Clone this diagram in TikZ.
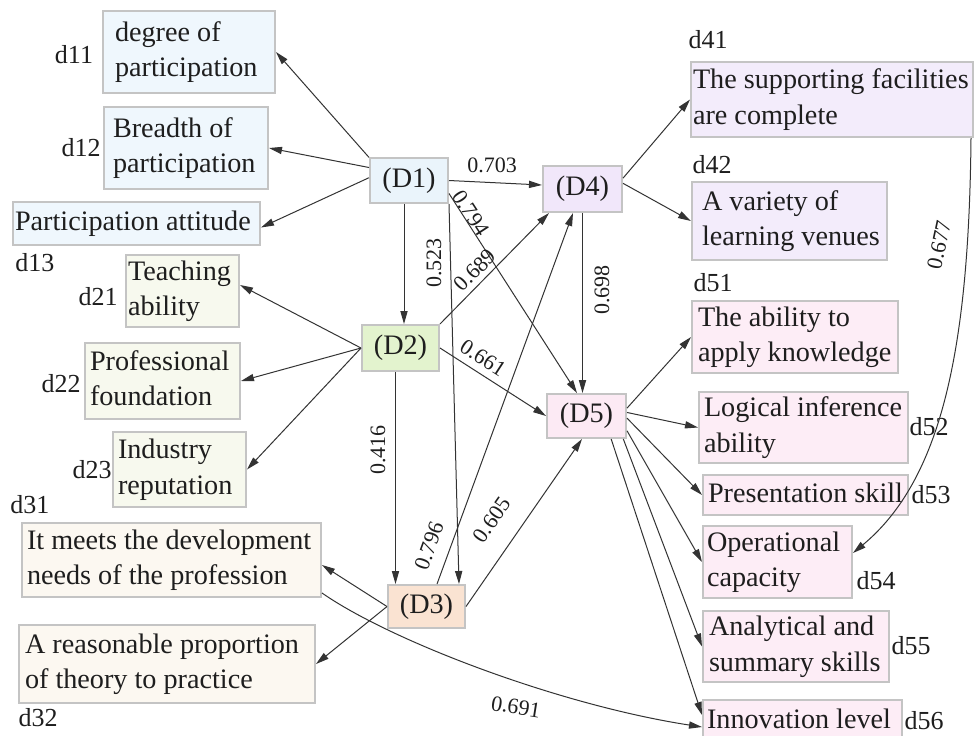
\documentclass[tikz,border=0pt]{standalone}
\usepackage{fontspec}
\setmainfont{Liberation Serif}
\usetikzlibrary{arrows.meta}

\definecolor{edgeink}{HTML}{333333}
\definecolor{frame}{HTML}{C4C4C4}
\definecolor{ink}{HTML}{1E1E1E}
\definecolor{leafA}{HTML}{EFF7FD}\definecolor{hubA}{HTML}{EAF4FB}
\definecolor{leafB}{HTML}{F7F9EE}\definecolor{hubB}{HTML}{E3F3CE}
\definecolor{leafC}{HTML}{FCF8F1}\definecolor{hubC}{HTML}{FAE3D2}
\definecolor{leafD}{HTML}{F3ECFB}\definecolor{hubD}{HTML}{F1E7FA}
\definecolor{leafE}{HTML}{FDEDF6}\definecolor{hubE}{HTML}{FCEAF4}

% left-aligned block of lines inside a box of fixed width (#1), indented by #2
\newcommand\celltext[3]{\makebox[#1][l]{\hspace*{#2}\begin{tabular}{@{}l@{}}#3\end{tabular}}}

\tikzset{
  box/.style={draw=frame, line width=1pt, inner sep=0pt, text=ink,
              font=\fontsize{14.1}{17.6}\selectfont},
  hub/.style={box, minimum width=39pt, minimum height=22.5pt},
  conn/.style={draw=edgeink, line width=0.5pt, -{Triangle[length=6.5pt,width=3.6pt]}},
  weight/.style={font=\fontsize{11}{13}\selectfont, text=ink, inner sep=0pt},
  tag/.style={font=\fontsize{13}{15}\selectfont, text=ink, inner sep=0pt},
}

\begin{document}
\begin{tikzpicture}[x=0.5pt, y=-0.5pt]
\useasboundingbox (0,0) rectangle (974,735);
\fill[white] (0,0) rectangle (974,735);
\clip (0,0) rectangle (974,735);

% ---- hub nodes
\node[hub, fill=hubA, minimum width=39pt,   minimum height=22.5pt] (D1) at (409,180.5) {(D1)};
\node[hub, fill=hubB, minimum width=38.5pt, minimum height=23pt]   (D2) at (400.5,348) {(D2)};
\node[hub, fill=hubC, minimum width=38.5pt, minimum height=21.5pt] (D3) at (426.5,606.5) {(D3)};
\node[hub, fill=hubD, minimum width=39.5pt, minimum height=23pt]   (D4) at (582.5,189) {(D4)};
\node[hub, fill=hubE, minimum width=39.5pt, minimum height=22pt]   (D5) at (586.5,416) {(D5)};

% ---- indicator boxes
\node[box, fill=leafA, minimum height=41pt]   (d11) at (189,52)      {\celltext{86pt}{6pt}{degree of\\participation}};
\node[box, fill=leafA, minimum height=41pt]   (d12) at (186,148)     {\celltext{82pt}{4.5pt}{Breadth of\\participation}};
\node[box, fill=leafA, minimum height=21.5pt] (d13) at (136.5,223.5) {\celltext{123.5pt}{1pt}{Participation attitude}};

\node[box, fill=leafB, minimum height=36pt]   (d21) at (182.5,291)   {\celltext{56.5pt}{1pt}{Teaching\\ability}};
\node[box, fill=leafB, minimum height=38pt]   (d22) at (162.5,381)   {\celltext{77.5pt}{2.5pt}{Professional\\foundation}};
\node[box, fill=leafB, minimum height=37.5pt] (d23) at (179.5,469.5) {\celltext{66.5pt}{2.5pt}{Industry\\reputation}};

\node[box, fill=leafC, minimum height=37pt]   (d31) at (171.5,560)   {\celltext{149.5pt}{2.5pt}{It meets the development\\needs of the profession}};
\node[box, fill=leafC, minimum height=39pt]   (d32) at (167,664)     {\celltext{148pt}{3pt}{A reasonable proportion\\of theory to practice}};

\node[box, fill=leafD, minimum height=37.5pt] (d41) at (832,99.5)    {\celltext{141pt}{1pt}{The supporting facilities\\are complete}};
\node[box, fill=leafD, minimum height=39pt]   (d42) at (789.5,221)   {\celltext{97.5pt}{5pt}{A variety of\\learning venues}};

\node[box, fill=leafE, minimum height=36pt]   (d51) at (795,337)     {\celltext{103pt}{3pt}{The ability to\\apply knowledge}};
\node[box, fill=leafE, minimum height=35.5pt] (d52) at (803.5,427.5) {\celltext{104.5pt}{2.5pt}{Logical inference\\ability}};
\node[box, fill=leafE, minimum height=20pt]   (d53) at (805.5,495)   {\celltext{102.5pt}{2.5pt}{Presentation skill}};
\node[box, fill=leafE, minimum height=36pt]   (d54) at (777.5,562)   {\celltext{74.5pt}{2pt}{Operational\\capacity}};
\node[box, fill=leafE, minimum height=35.5pt] (d55) at (796,646.5)   {\celltext{93pt}{3pt}{Analytical and\\summary skills}};
\node[box, fill=leafE, minimum height=21pt]   (d56) at (802.5,721)   {\celltext{99.5pt}{2pt}{Innovation level}};

% ---- indicator codes
\node[tag] (t11) at (74,55)   {d11};
\node[tag] (t12) at (81,148)  {d12};
\node[tag] (t13) at (35,263)  {d13};
\node[tag] (t21) at (98,297)  {d21};
\node[tag] (t22) at (61,384)  {d22};
\node[tag] (t23) at (92,470)  {d23};
\node[tag] (t31) at (30,505)  {d31};
\node[tag] (t32) at (38,718)  {d32};
\node[tag] (t41) at (708,40)  {d41};
\node[tag] (t42) at (712,165) {d42};
\node[tag] (t51) at (713,283) {d51};
\node[tag] (t52) at (929,427) {d52};
\node[tag] (t53) at (931,495) {d53};
\node[tag] (t54) at (876,581) {d54};
\node[tag] (t55) at (911,646) {d55};
\node[tag] (t56) at (924,721) {d56};

% ---- hub to indicator arrows
\draw[conn] (D1.150) -- (d11.east);
\draw[conn] (D1.162) -- (d12.east);
\draw[conn] (D1.176) -- ([yshift=-2pt]d13.east);

\draw[conn] (D2.west) -- ([yshift=3pt]d21.east);
\draw[conn] (D2.west) -- (d22.east);
\draw[conn] (D2.west) -- (d23.east);

\draw[conn] (D3.west) -- ([yshift=-2.5pt]d31.east);
\draw[conn] (D3.west) -- (d32.east);

\draw[conn] (D4.15) -- (d41.west);
\draw[conn] (D4.8)  -- (d42.west);

\draw[conn] (D5.11)  -- (d51.west);
\draw[conn] (D5.5)   -- (d52.west);
\draw[conn] (D5.-3)  -- (d53.west);
\draw[conn] (D5.-20) -- (d54.west);
\draw[conn] (D5.-32) -- (d55.west);
\draw[conn] (D5.-43) -- ([yshift=3pt]d56.west);

% ---- paths between hubs
\draw[conn] (D1.east) -- ([yshift=2pt]D4.west);
\draw[conn] ([xshift=-2.5pt]D1.south) -- ([xshift=-2.5pt]D1.south |- D2.north);
\draw[conn] (D1.south east) -- ([xshift=-3.5pt]D3.north east);
\draw[conn] (D1.-18) -- ([xshift=-4.75pt]D5.north);
\draw[conn] (D2.north east) -- ([xshift=3.5pt]D4.south west);
\draw[conn] (D2.east) -- (D5.west);
\draw[conn] ([xshift=-2.5pt]D2.south) -- ([xshift=-2.5pt]D2.south |- D3.north);
\draw[conn] ([xshift=5.25pt]D3.north) -- ([xshift=-4.75pt]D4.south);
\draw[conn] (D3.east) -- ([xshift=-2.25pt]D5.south);
\draw[conn] (D4.south) -- (D4.south |- D5.north);

% ---- residual correlations
\draw[conn] ([xshift=-1.5pt]d41.south east) .. controls +(-2,213) and +(88,-73) .. ([yshift=4.5pt]d54.east);
\draw[conn] ([yshift=2.5pt]d31.south east) .. controls +(69,48) and +(-143,-22) .. ([yshift=-3pt]d56.west);

% ---- path coefficients
\node[weight] (w703) at (492,165)              {0.703};
\node[weight, rotate=-57] (w794) at (471,213)  {0.794};
\node[weight, rotate=90]  (w523) at (434,263)  {0.523};
\node[weight, rotate=46]  (w689) at (475,270)  {0.689};
\node[weight, rotate=90]  (w698) at (602,290)  {0.698};
\node[weight, rotate=-33] (w661) at (483,358)  {0.661};
\node[weight, rotate=90]  (w416) at (378,450)  {0.416};
\node[weight, rotate=70]  (w796) at (429,546)  {0.796};
\node[weight, rotate=55]  (w605) at (492,520)  {0.605};
\node[weight, rotate=78]  (w677) at (939,245)  {0.677};
\node[weight, rotate=-9]  (w691) at (516,707)  {0.691};
\end{tikzpicture}
\end{document}
